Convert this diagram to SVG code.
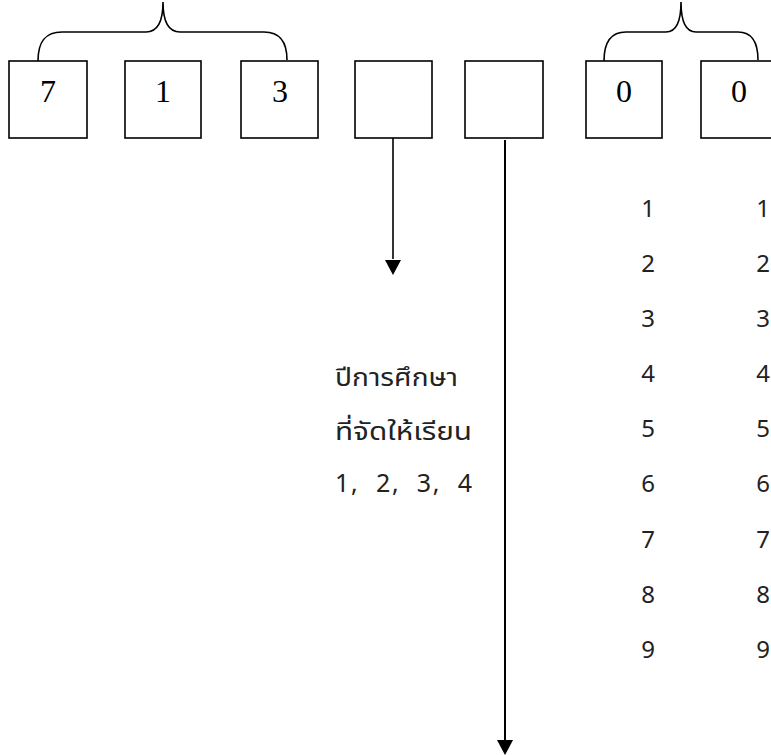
<svg xmlns="http://www.w3.org/2000/svg" width="771" height="755" viewBox="0 0 771 755">
<style>
.box{fill:#fff;stroke:#000;stroke-width:1.6}
.brace{fill:none;stroke:#000;stroke-width:1.6}
.d{font-family:"Liberation Serif","Times New Roman",serif;font-size:32px;text-anchor:middle;fill:#000}
.t{font-family:"Noto Sans","Noto Sans Thai",Tahoma,sans-serif;font-size:25px;fill:#222}
.n{font-family:"Noto Sans",sans-serif;font-size:24px;fill:#222;text-anchor:middle}
.ln{stroke:#000;stroke-width:2;fill:none}
</style>
<g id="braces">
<path class="brace" d="M38,61 C38,42 45,32 62,32 L146,32 C157,32 163,22 163,2 C163,22 169,32 180,32 L264,32 C280,32 287,42 287,60"/>
<path class="brace" d="M604,61 C604,42 611,32 626,32 L666,32 C676,32 681,22 681,2 C681,22 686,32 696,32 L738,32 C752,32 758,42 758,60"/>
</g>
<g id="b1"><rect class="box" x="9" y="61" width="78" height="77"/><text class="d" x="48" y="102">7</text></g>
<g id="b2"><rect class="box" x="125" y="61" width="76" height="77"/><text class="d" x="163" y="102">1</text></g>
<g id="b3"><rect class="box" x="241" y="61" width="77" height="77"/><text class="d" x="280" y="102">3</text></g>
<g id="b4"><rect class="box" x="355" y="61" width="77" height="77"/></g>
<g id="b5"><rect class="box" x="465" y="61" width="78" height="77"/></g>
<g id="b6"><rect class="box" x="586" y="61" width="76" height="77"/><text class="d" x="624" y="102">0</text></g>
<g id="b7"><rect class="box" x="701" y="61" width="77" height="77"/><text class="d" x="739" y="102">0</text></g>
<g id="connectors">
<line class="ln" x1="393" y1="138" x2="393" y2="259" style="stroke-width:1.6"/>
<path d="M385,260 L401,260 L393,275 Z" fill="#000"/>
<line class="ln" x1="505" y1="140" x2="505" y2="740"/>
<path d="M497,740 L513,740 L505,755 Z" fill="#000"/>
</g>
<g id="label">
<text class="t" x="335" y="386" textLength="123" lengthAdjust="spacingAndGlyphs">ปีการศึกษา</text>
<text class="t" x="335" y="440" textLength="137" lengthAdjust="spacingAndGlyphs">ที่จัดให้เรียน</text>
<text class="t" x="335" y="492" font-size="24" xml:space="preserve" textLength="137">1,  2,  3,  4</text>
</g>
<g id="col1">
<text class="n" x="648" y="217">1</text>
<text class="n" x="648" y="272">2</text>
<text class="n" x="648" y="327">3</text>
<text class="n" x="648" y="382">4</text>
<text class="n" x="648" y="437">5</text>
<text class="n" x="648" y="492">6</text>
<text class="n" x="648" y="548">7</text>
<text class="n" x="648" y="603">8</text>
<text class="n" x="648" y="658">9</text>
</g>
<g id="col2">
<text class="n" x="763" y="217">1</text>
<text class="n" x="763" y="272">2</text>
<text class="n" x="763" y="327">3</text>
<text class="n" x="763" y="382">4</text>
<text class="n" x="763" y="437">5</text>
<text class="n" x="763" y="492">6</text>
<text class="n" x="763" y="548">7</text>
<text class="n" x="763" y="603">8</text>
<text class="n" x="763" y="658">9</text>
</g>
</svg>
